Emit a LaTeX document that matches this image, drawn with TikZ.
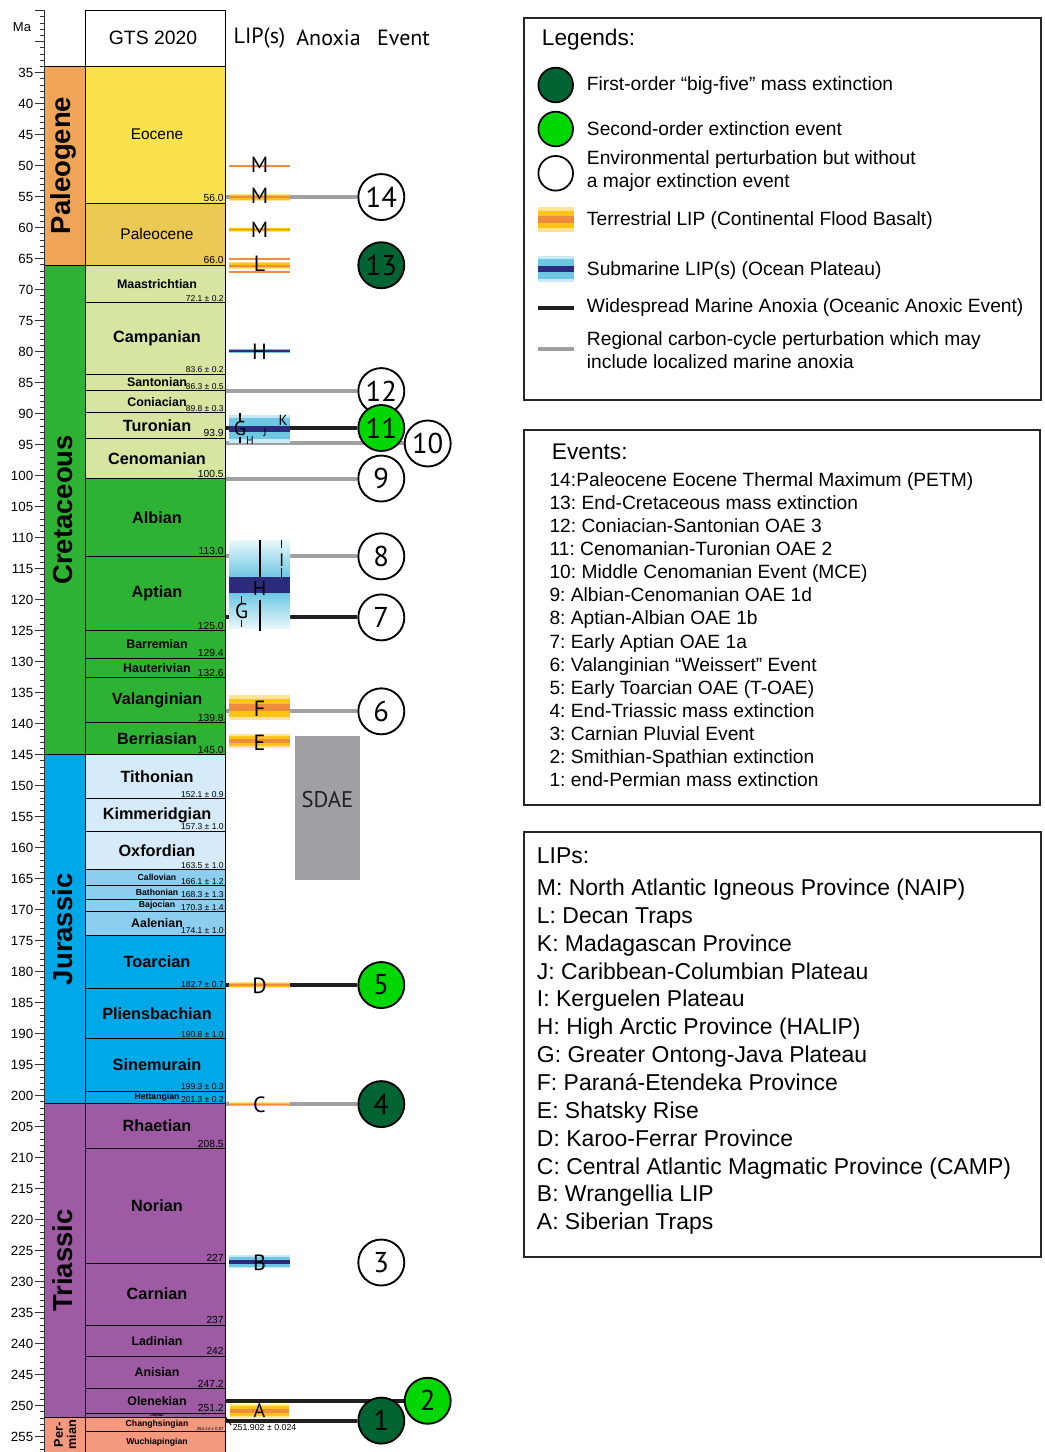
\documentclass[tikz,border=0pt]{standalone}
\usepackage{fontspec}
\setmainfont{Liberation Sans}
\newfontfamily\myriad{PT Sans}
\usetikzlibrary{positioning,backgrounds}
\frenchspacing

\definecolor{cPaleogene}{RGB}{240,164,88}
\definecolor{cEocene}{RGB}{250,226,76}
\definecolor{cPaleocene}{RGB}{236,200,84}
\definecolor{cCret}{RGB}{45,178,52}
\definecolor{cLateCret}{RGB}{214,230,160}
\definecolor{cJura}{RGB}{0,168,232}
\definecolor{cLateJura}{RGB}{213,235,250}
\definecolor{cMidJura}{RGB}{141,206,240}
\definecolor{cTrias}{RGB}{158,90,163}
\definecolor{cPerm}{RGB}{244,152,126}
\definecolor{cYellow}{RGB}{253,196,22}
\definecolor{cPale}{RGB}{254,228,150}
\definecolor{cOrange}{RGB}{240,140,62}
\definecolor{cBlue}{RGB}{110,200,228}
\definecolor{cSky}{RGB}{200,234,246}
\definecolor{cNavy}{RGB}{44,42,122}
\definecolor{cGray}{RGB}{160,160,164}
\definecolor{cBlack}{RGB}{35,31,32}
\definecolor{cBigfive}{RGB}{0,100,50}
\definecolor{cSecond}{RGB}{0,214,0}

% terrestrial LIP band: x1, x2, centre, half height
\newcommand{\terrlip}[4]{%
  \fill[cPale] (#1,{#3-#4}) rectangle (#2,{#3+#4});
  \fill[cYellow] (#1,{#3-0.72*#4}) rectangle (#2,{#3+0.72*#4});
  \fill[cOrange] (#1,{#3-0.28*#4}) rectangle (#2,{#3+0.28*#4});}
% submarine LIP band: x1, x2, centre, half height, half height of the core
\newcommand{\sublip}[5]{%
  \fill[cSky] (#1,{#3-#4}) rectangle (#2,{#3+#4});
  \fill[cBlue] (#1,{#3-0.75*#4}) rectangle (#2,{#3+0.75*#4});
  \fill[cNavy] (#1,{#3-#5}) rectangle (#2,{#3+#5});}

\begin{document}
\begin{tikzpicture}[x=0.75pt, y=-0.75pt,
    stagebig/.style={font=\bfseries\fontsize{12.2}{13}\selectfont},
    stagemid/.style={font=\bfseries\fontsize{9.3}{10}\selectfont},
    stagesmall/.style={font=\bfseries\fontsize{6.5}{7}\selectfont},
    stagetiny/.style={font=\bfseries\fontsize{3}{3}\selectfont, inner sep=0pt},
    epochlabel/.style={font=\fontsize{11.6}{12}\selectfont},
    agebig/.style={font=\fontsize{7.7}{8}\selectfont},
    agesmall/.style={font=\fontsize{6.4}{7}\selectfont},
    agetiny/.style={font=\fontsize{3.3}{4}\selectfont},
    periodlabel/.style={rotate=90, font=\bfseries\fontsize{20.6}{21}\selectfont},
    permlabel/.style={rotate=90, inner sep=0pt, font=\bfseries\fontsize{9.5}{10}\selectfont},
    axislabel/.style={anchor=east, inner sep=0pt, font=\fontsize{10}{10}\selectfont},
    tickline/.style={line width=0.75pt, black!80},
    lipletter/.style={inner sep=0pt, font=\myriad\fontsize{16.5}{17}\selectfont},
    lipmark/.style={line width=0.9pt, black},
    evcircle/.style={circle, draw=black, line width=1.4pt, minimum size=34.5pt, inner sep=0pt, font=\myriad\fontsize{21.5}{22}\selectfont},
    firstorder/.style={evcircle, fill=cBigfive},
    secondorder/.style={evcircle, fill=cSecond},
    perturb/.style={evcircle, fill=white},
    legcircle/.style={circle, draw=black, line width=1.3pt, minimum size=26pt, inner sep=0pt},
    oaeline/.style={line width=3pt, cBlack},
    regline/.style={line width=3pt, cGray},
    infobox/.style={draw=black!85, line width=1.1pt},
    boxtitle/.style={anchor=west, inner sep=0pt, font=\fontsize{17}{17}\selectfont},
    boxtext/.style={anchor=west, inner sep=0pt, align=left, font=\fontsize{14.4}{17.3}\selectfont},
    listtext/.style={anchor=west, inner sep=0pt, text height=0.78em, text depth=0.06em},
    evtext/.style={listtext, font=\fontsize{14.4}{17.3}\selectfont},
    liptext/.style={listtext, font=\fontsize{17.2}{17.2}\selectfont}]
\useasboundingbox (0,0) rectangle (1045,1452);

\begin{scope}[y=-4.65pt, yshift=108.2pt]
\foreach \ya/\yb/\col/\nm in {33.9/66/cPaleogene/Paleogene, 66/145/cCret/Cretaceous,
    145/201.3/cJura/Jurassic, 201.3/251.902/cTrias/Triassic}{
  \fill[\col, draw=black, line width=0.6pt] (44.3,\ya) rectangle (85,\yb);
  \node[periodlabel] (per-\nm) at (63,{(\ya+\yb)/2}) {\nm};
}
\fill[cPerm, draw=black, line width=0.6pt] (44.3,251.902) rectangle (85,257.8);
\node[permlabel] (per-a) at (58.5,254.7) {Per-};
\node[permlabel] (per-b) at (71.5,254.7) {mian};

\foreach \ya/\yb/\col/\nm/\sty/\age/\asty in {
    33.9/56.0/cEocene/Eocene/epochlabel/56.0/agebig,
    56.0/66.0/cPaleocene/Paleocene/epochlabel/66.0/agebig,
    66.0/72.1/cLateCret/Maastrichtian/stagemid/72.1 ± 0.2/agesmall,
    72.1/83.6/cLateCret/Campanian/stagebig/83.6 ± 0.2/agesmall,
    83.6/86.3/cLateCret/Santonian/stagemid/86.3 ± 0.5/agesmall,
    86.3/89.8/cLateCret/Coniacian/stagemid/89.8 ± 0.3/agesmall,
    89.8/93.9/cLateCret/Turonian/stagebig/93.9/agebig,
    93.9/100.5/cLateCret/Cenomanian/stagebig/100.5/agebig,
    100.5/113.0/cCret/Albian/stagebig/113.0/agebig,
    113.0/125.0/cCret/Aptian/stagebig/125.0/agebig,
    125.0/129.4/cCret/Barremian/stagemid/129.4/agebig,
    129.4/132.6/cCret/Hauterivian/stagemid/132.6/agebig,
    132.6/139.8/cCret/Valanginian/stagebig/139.8/agebig,
    139.8/145.0/cCret/Berriasian/stagebig/145.0/agebig,
    145.0/152.1/cLateJura/Tithonian/stagebig/152.1 ± 0.9/agesmall,
    152.1/157.3/cLateJura/Kimmeridgian/stagebig/157.3 ± 1.0/agesmall,
    157.3/163.5/cLateJura/Oxfordian/stagebig/163.5 ± 1.0/agesmall,
    163.5/166.1/cMidJura/Callovian/stagesmall/166.1 ± 1.2/agesmall,
    166.1/168.3/cMidJura/Bathonian/stagesmall/168.3 ± 1.3/agesmall,
    168.3/170.3/cMidJura/Bajocian/stagesmall/170.3 ± 1.4/agesmall,
    170.3/174.1/cMidJura/Aalenian/stagemid/174.1 ± 1.0/agesmall,
    174.1/182.7/cJura/Toarcian/stagebig/182.7 ± 0.7/agesmall,
    182.7/190.8/cJura/Pliensbachian/stagebig/190.8 ± 1.0/agesmall,
    190.8/199.3/cJura/Sinemurain/stagebig/199.3 ± 0.3/agesmall,
    199.3/201.3/cJura/Hettangian/stagesmall/201.3 ± 0.2/agesmall,
    201.3/208.5/cTrias/Rhaetian/stagebig/208.5/agebig,
    208.5/227/cTrias/Norian/stagebig/227/agebig,
    227/237/cTrias/Carnian/stagebig/237/agebig,
    237/242/cTrias/Ladinian/stagemid/242/agebig,
    242/247.2/cTrias/Anisian/stagemid/247.2/agebig,
    247.2/251.2/cTrias/Olenekian/stagemid/251.2/agebig,
    251.2/251.902/cTrias/Induan/stagetiny//agebig,
    251.902/254.14/cPerm/Changhsingian/stagesmall/254.14 ± 0.07/agetiny,
    254.14/257.8/cPerm/Wuchiapingian/stagesmall//agebig}{
  \fill[\col, draw=black, line width=0.6pt] (85,\ya) rectangle (225,\yb);
  \node[\sty] (st-\nm) at (157,{(\ya+\yb)/2}) {\nm};
  \node[\asty, anchor=south east, inner sep=0.8pt] (age-\nm) at (225,\yb) {\age};
}
\draw[line width=0.6pt] (85,257.8) -- (85,24.9) -- (225,24.9) -- (225,257.8);

\foreach \m in {25,...,257} \draw[tickline] (40,\m) -- (44.3,\m);
\foreach \m in {25,30,...,255} \draw[tickline] (35,\m) -- (44.3,\m);
\foreach \m in {35,40,...,255} \node[axislabel] (ma\m) at (33.5,\m) {\m};
\draw[tickline] (44.3,24.9) -- (44.3,257.8);

\draw[cOrange, line width=1.5pt] (229,50) -- (290,50);
\terrlip{229}{290}{55.05}{0.56}
\terrlip{229}{290}{60.3}{0.32}
\draw[cOrange, line width=1.4pt] (229,65.05) -- (290,65.05) (229,67.15) -- (290,67.15);
\terrlip{229}{290}{66.1}{0.55}
\sublip{229}{290}{79.9}{0.38}{0.16}
\sublip{229}{290}{92.4}{2.25}{0.5}
\shade[top color=cSky!40, bottom color=cBlue] (229,110.4) rectangle (290,116.3);
\fill[cNavy] (229,116.3) rectangle (290,119.0);
\shade[top color=cBlue, bottom color=cSky!40] (229,119.0) rectangle (290,124.6);
\terrlip{229}{290}{137.4}{2.0}
\terrlip{229}{290}{142.8}{1.13}
\terrlip{229}{290}{182.15}{0.5}
\terrlip{229}{290}{201.35}{0.33}
\sublip{229}{290}{226.8}{1.05}{0.32}
\terrlip{229}{290}{250.85}{1.2}
\draw[white, line width=0.8pt] (229,249.65) rectangle (290,252.05);

\node[lipletter] (lipM1) at (259.5,49.8) {M};
\node[lipletter] (lipM2) at (259.5,54.8) {M};
\node[lipletter] (lipM3) at (259.5,60.3) {M};
\node[lipletter] (lipL) at (259.5,65.8) {L};
\node[lipletter] (lipH1) at (259.5,80.0) {H};
\node[lipletter, font=\myriad\fontsize{15}{15}\selectfont] (lipG1) at (240,92.4) {G};
\node[lipletter, font=\myriad\fontsize{11}{11}\selectfont] (lipK) at (283,91.0) {K};
\node[lipletter, font=\myriad\fontsize{8.5}{9}\selectfont] (lipH2) at (250,94.25) {H};
\node[lipletter, font=\myriad\fontsize{8.5}{9}\selectfont] (lipJ) at (265,93.1) {J};
\draw[lipmark] (240,89.9) -- (240,91.1) (240,93.7) -- (240,94.7);
\node[lipletter, font=\myriad\fontsize{15}{15}\selectfont] (lipH3) at (259.5,118.2) {H};
\node[lipletter, font=\myriad\fontsize{13.5}{14}\selectfont] (lipI) at (281.7,113.6) {I};
\node[lipletter, font=\myriad\fontsize{16}{16}\selectfont] (lipG2) at (241.7,121.8) {G};
\draw[lipmark] (260,110.4) -- (260,116.3) (260,120.0) -- (260,125.0);
\draw[lipmark] (281.7,110.4) -- (281.7,111.7) (281.7,114.9) -- (281.7,116.5);
\draw[lipmark] (241.7,119.4) -- (241.7,120.5) (241.7,123.2) -- (241.7,124.4);
\node[lipletter] (lipF) at (259.5,137.6) {F};
\node[lipletter] (lipE) at (259.5,143.0) {E};
\node[lipletter] (lipD) at (259.5,182.2) {D};
\node[lipletter] (lipC) at (259.5,201.5) {C};
\node[lipletter] (lipB) at (259.5,226.9) {B};
\node[lipletter, font=\myriad\fontsize{15}{15}\selectfont] (lipA) at (259.5,250.8) {A};

\fill[cGray] (295,142.0) rectangle (360,165.2);
\node[inner sep=0pt, text=cBlack, font=\myriad\fontsize{17}{17}\selectfont] (sdae) at (327.5,152.3) {SDAE};

\node[perturb] (ev14) at (381.3,55.05) {14};
\node[firstorder] (ev13) at (381.3,66.05) {13};
\node[perturb] (ev12) at (381.3,86.35) {12};
\node[perturb] (ev10) at (427.7,94.8) {10};
\node[secondorder] (ev11) at (381.3,92.3) {11};
\node[perturb] (ev9) at (381.3,100.45) {9};
\node[perturb] (ev8) at (381.3,113.0) {8};
\node[perturb] (ev7) at (381.3,122.85) {7};
\node[perturb] (ev6) at (381.3,138.0) {6};
\node[secondorder] (ev5) at (381.3,182.15) {5};
\node[firstorder] (ev4) at (381.3,201.35) {4};
\node[perturb] (ev3) at (381.3,226.9) {3};
\node[secondorder] (ev2) at (427.7,249.2) {2};
\node[firstorder] (ev1) at (381.3,252.4) {1};

\begin{scope}[on background layer]
\foreach \k/\m in {14/55.05, 12/86.35, 10/94.8, 9/100.45, 8/113.0, 6/138.0, 4/201.35}{
  \coordinate (from\k) at (225,\m);
  \draw[regline] (from\k) -- (ev\k);
}
\foreach \k/\m in {11/92.3, 7/122.85, 5/182.15, 2/249.2, 1/252.4}{
  \coordinate (from\k) at (225,\m);
  \draw[oaeline] (from\k) -- (ev\k);
}
\end{scope}
\coordinate (ptrA) at (225.5,251.8);
\coordinate (ptrB) at (231,253.1);
\draw[line width=0.8pt] (ptrA) -- (ptrB);
\node[anchor=west, inner sep=0pt, font=\fontsize{6.6}{7}\selectfont] (age-PT) at (232.5,253.55) {251.902 ± 0.024};
\end{scope}

\node[font=\fontsize{9.75}{10}\selectfont] (maunit) at (22,27) {Ma};
\node[font=\fontsize{14.5}{15}\selectfont] (gts) at (153,38) {GTS 2020};
\node[font=\myriad\fontsize{16.5}{17}\selectfont] (hlip) at (259.5,38) {LIP(s)};
\node[font=\myriad\fontsize{16.5}{17}\selectfont] (hanox) at (328.5,38) {Anoxia};
\node[font=\myriad\fontsize{16.5}{17}\selectfont] (hevent) at (403.5,38) {Event};

\draw[infobox] (524,18) rectangle (1041,400);
\node[boxtitle] (legtitle) at (541.7,40) {Legends:};
\node[legcircle, fill=cBigfive] (legbig) at (555.7,85) {};
\node[legcircle, fill=cSecond] (legsec) at (555.7,129) {};
\node[legcircle, fill=white] (legenv) at (555.7,173.3) {};
\node[boxtext] (legbigtxt) at (586.7,86) {First-order “big-five” mass extinction};
\node[boxtext] (legsectxt) at (586.7,128.5) {Second-order extinction event};
\node[boxtext] (legenvtxt) at (586.7,171) {Environmental perturbation but without\\a major extinction event};
\terrlip{538.3}{574.3}{219.5}{12.2}
\node[boxtext] (legterr) at (586.7,220.7) {Terrestrial LIP (Continental Flood Basalt)};
\sublip{538.3}{574.3}{269}{12.8}{3.2}
\node[boxtext] (legsub) at (586.7,271) {Submarine LIP(s) (Ocean Plateau)};
\draw[oaeline] (538.3,307.7) -- (574.3,307.7);
\node[boxtext] (legoae) at (586.7,307.7) {Widespread Marine Anoxia (Oceanic Anoxic Event)};
\draw[regline] (538.3,349) -- (574.3,349);
\node[boxtext] (legreg) at (586.7,350.5) {Regional carbon-cycle perturbation which may\\include localized marine anoxia};

\draw[infobox] (524,430) rectangle (1040,805);
\node[boxtitle] (evtitle) at (551.7,451.7) {Events:};
\foreach \txt [count=\i from 0] in {14:Paleocene Eocene Thermal Maximum (PETM),
    13: End-Cretaceous mass extinction, 12: Coniacian-Santonian OAE 3,
    11: Cenomanian-Turonian OAE 2, 10: Middle Cenomanian Event (MCE),
    9: Albian-Cenomanian OAE 1d, 8: Aptian-Albian OAE 1b, 7: Early Aptian OAE 1a,
    6: Valanginian “Weissert” Event, 5: Early Toarcian OAE (T-OAE),
    4: End-Triassic mass extinction, 3: Carnian Pluvial Event,
    2: Smithian-Spathian extinction, 1: end-Permian mass extinction}
  \node[evtext] (evt\i) at (549.3,{481.7+23.08*\i}) {\txt};

\draw[infobox] (524,832) rectangle (1041,1257);
\node[liptext] (liptitle) at (536.7,859) {LIPs:};
\foreach \txt [count=\i from 0] in {M: North Atlantic Igneous Province (NAIP),
    L: Decan Traps, K: Madagascan Province, J: Caribbean-Columbian Plateau,
    I: Kerguelen Plateau, H: High Arctic Province (HALIP),
    G: Greater Ontong-Java Plateau, F: Paraná-Etendeka Province, E: Shatsky Rise,
    D: Karoo-Ferrar Province, C: Central Atlantic Magmatic Province (CAMP),
    B: Wrangellia LIP, A: Siberian Traps}
  \node[liptext] (lipt\i) at (536.7,{890.7+27.86*\i}) {\txt};
\end{tikzpicture}
\end{document}
